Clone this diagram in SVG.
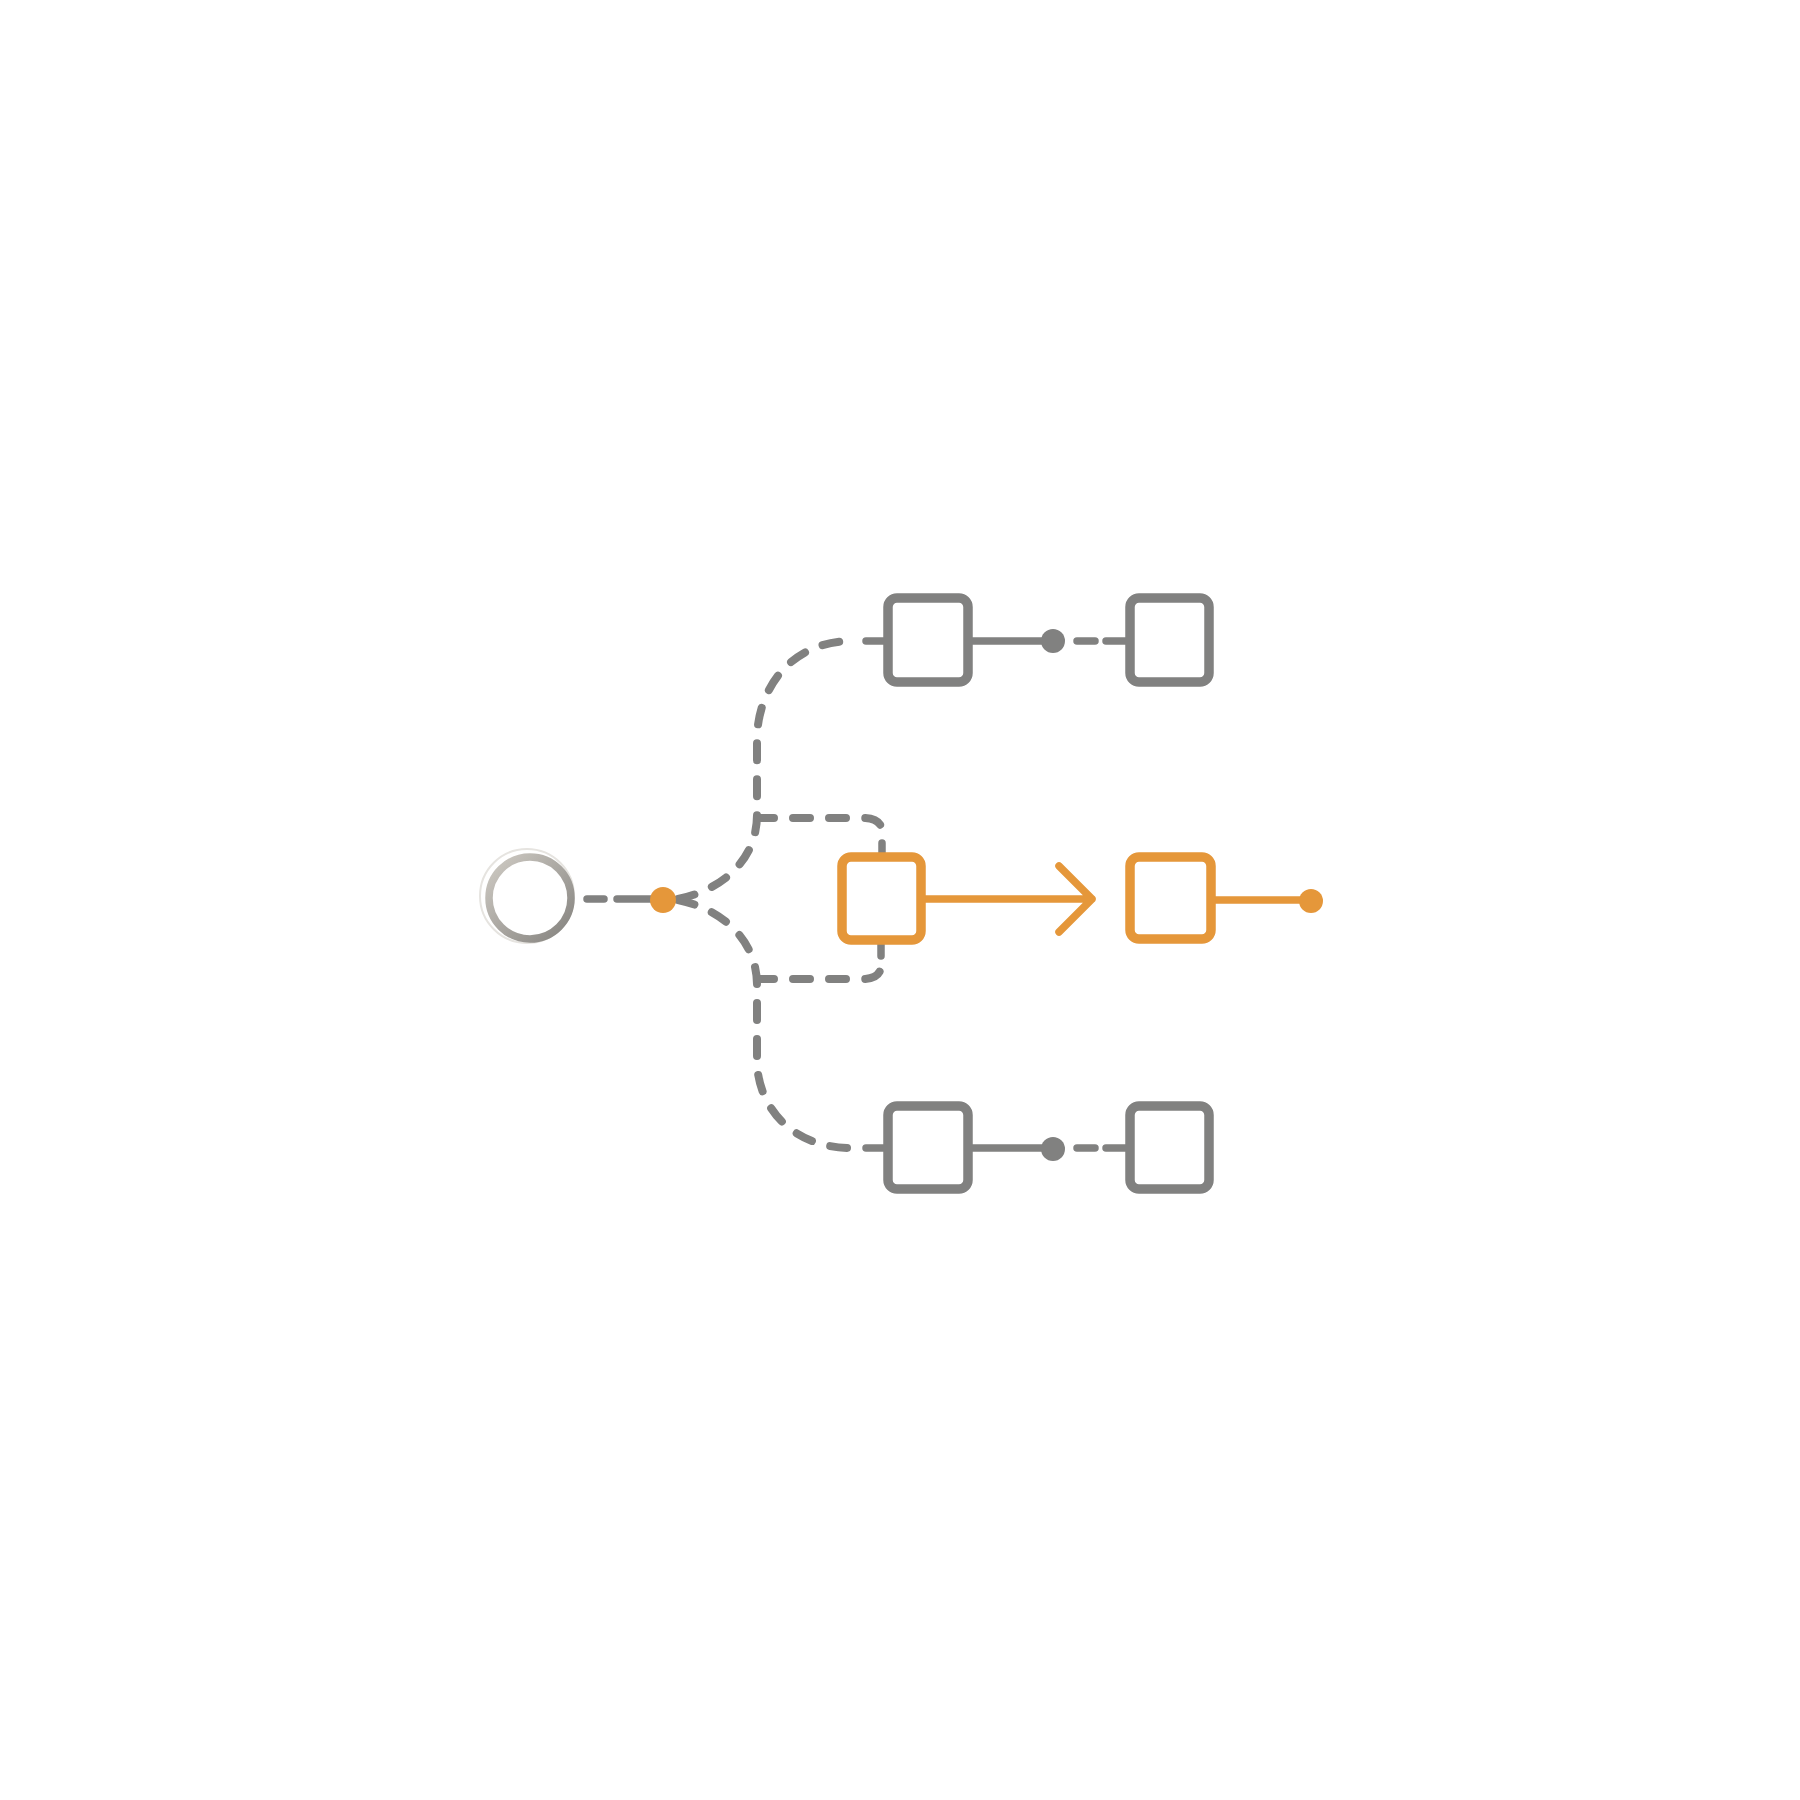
<svg xmlns="http://www.w3.org/2000/svg" width="1800" height="1800" viewBox="0 0 1800 1800">
<style>
.gn{fill:#fff;stroke:#818180;stroke-width:9.5}
.on{fill:#fff;stroke:#E5973A;stroke-width:9.5}
.g{fill:none;stroke:#818180;stroke-width:7.5;stroke-linecap:round;stroke-linejoin:round}
.gd{fill:none;stroke:#818180;stroke-width:8;stroke-linecap:round;stroke-dasharray:17 19}
.o{fill:none;stroke:#E5973A;stroke-width:7.5;stroke-linecap:round;stroke-linejoin:round}
.gdot{fill:#818180}
.odot{fill:#E5973A}
</style>
<defs>
  <linearGradient id="ring" x1="0" y1="0" x2="1" y2="1">
    <stop offset="0" stop-color="#cfcbc4"/>
    <stop offset="1" stop-color="#85837f"/>
  </linearGradient>
</defs>
<rect width="1800" height="1800" fill="#fff"/>
<g id="connectors">
  <path class="g" d="M587 899 L604 899 M617 899 L652 899"/>
  <path class="gd" d="M678 899 C722 890 757 860 757 815 L757 740 C757 690 790 641 852 641"/>
  <path class="g" d="M866 641 L888 641"/>
  <path class="gd" d="M678 900 C722 909 757 940 757 985 L757 1060 C757 1105 790 1148 852 1148"/>
  <path class="g" d="M866 1148 L888 1148"/>
  <path class="gd" d="M757 818 L862 818 Q882 818 882 832"/>
  <path class="g" d="M882 843 L882 856"/>
  <path class="gd" d="M757 979 L862 979 Q881 979 881 965"/>
  <path class="g" d="M881 956 L881 944"/>
  <path class="g" d="M968 641 L1053 641 M1077 641 L1095 641 M1106 641 L1130 641"/>
  <circle class="gdot" cx="1053" cy="641" r="12"/>
  <path class="g" d="M968 1148 L1053 1148 M1077 1148 L1095 1148 M1106 1148 L1130 1148"/>
  <circle class="gdot" cx="1053" cy="1149" r="12"/>
  <path class="o" d="M921 899 L1092 899 M1059 866 L1092 899 L1059 932"/>
  <path class="o" d="M1211 900 L1311 900"/>
  <circle class="odot" cx="1311" cy="901" r="12"/>
  <circle class="odot" cx="663" cy="900" r="13"/>
</g>
<g id="start">
  <circle cx="527" cy="896" r="47" fill="none" stroke="#e6e4e0" stroke-width="2"/>
  <circle cx="530" cy="898" r="41" fill="#fff" stroke="url(#ring)" stroke-width="7.5"/>
</g>
<g id="top-a"><rect class="gn" x="888" y="598" width="80" height="84" rx="9"/></g>
<g id="top-b"><rect class="gn" x="1130" y="598" width="79" height="84" rx="9"/></g>
<g id="mid-a"><rect class="on" x="842" y="857" width="79" height="83" rx="9"/></g>
<g id="mid-b"><rect class="on" x="1130" y="857" width="81" height="82" rx="9"/></g>
<g id="bot-a"><rect class="gn" x="888" y="1106" width="80" height="83" rx="9"/></g>
<g id="bot-b"><rect class="gn" x="1130" y="1106" width="79" height="83" rx="9"/></g>
</svg>
